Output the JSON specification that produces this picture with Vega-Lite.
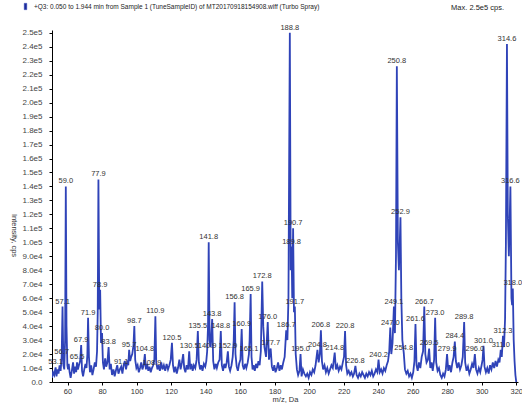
{
"$schema": "https://vega.github.io/schema/vega-lite/v6.json",
"width": 466, "height": 352,
"autosize": {"type": "none"},
"padding": {"left": 52, "top": 30, "right": 4, "bottom": 23},
"background": "white",
"config": {"view": {"stroke": null}, "font": "Liberation Sans"},
"title": {"text": "Max. 2.5e5 cps.", "anchor": "end", "frame": "group", "orient": "top", "fontSize": 7.5, "fontWeight": "normal", "color": "#222", "offset": -8, "dx": -14},
"data": {"values": [
{"mz":51.0,"i":3000},{"mz":51.6,"i":7000},{"mz":52.3,"i":5000},{"mz":52.7,"i":8000},{"mz":53.1,"i":10500,"lab":"53.1"},{"mz":53.6,"i":4000},{"mz":54.2,"i":9000},{"mz":54.8,"i":6000},{"mz":55.4,"i":12000},{"mz":56.0,"i":8000},{"mz":56.6,"i":18000,"lab":"56.7"},{"mz":57.1,"i":54000,"lab":"57.1"},{"mz":57.6,"i":12000},{"mz":58.1,"i":9000},{"mz":58.6,"i":30000},{"mz":59.0,"i":140000,"lab":"59.0"},{"mz":59.4,"i":40000},{"mz":59.9,"i":12000},{"mz":60.3,"i":9000},{"mz":60.7,"i":13000},{"mz":61.2,"i":7000},{"mz":61.8,"i":3000},{"mz":62.5,"i":8000},{"mz":63.2,"i":14000},{"mz":63.8,"i":6000},{"mz":64.5,"i":11000},{"mz":65.0,"i":7000},{"mz":65.5,"i":14000,"lab":"65.5"},{"mz":66.0,"i":9000},{"mz":66.6,"i":12000},{"mz":67.3,"i":15000},{"mz":67.9,"i":26500,"lab":"67.9"},{"mz":68.4,"i":8000},{"mz":69.0,"i":4000},{"mz":69.7,"i":9000},{"mz":70.4,"i":13000},{"mz":71.0,"i":10000},{"mz":71.5,"i":20000},{"mz":71.9,"i":46000,"lab":"71.9"},{"mz":72.4,"i":18000},{"mz":73.0,"i":7000},{"mz":73.7,"i":12000},{"mz":74.4,"i":5000},{"mz":75.1,"i":9000},{"mz":75.8,"i":14000},{"mz":76.5,"i":11000},{"mz":77.1,"i":22000},{"mz":77.5,"i":50000},{"mz":77.9,"i":145000,"lab":"77.9"},{"mz":78.4,"i":52000},{"mz":78.9,"i":66000,"lab":"78.9"},{"mz":79.4,"i":28000},{"mz":80.0,"i":35000,"lab":"80.0"},{"mz":80.5,"i":14000},{"mz":81.1,"i":9000},{"mz":81.8,"i":17000},{"mz":82.4,"i":11000},{"mz":83.1,"i":14000},{"mz":83.8,"i":25000,"lab":"83.8"},{"mz":84.4,"i":9000},{"mz":85.1,"i":13000},{"mz":85.8,"i":5000},{"mz":86.6,"i":9000},{"mz":87.3,"i":4000},{"mz":88.0,"i":8000},{"mz":88.8,"i":12000},{"mz":89.5,"i":6000},{"mz":90.3,"i":9000},{"mz":91.1,"i":11000,"lab":"91.1"},{"mz":91.8,"i":6000},{"mz":92.5,"i":12000},{"mz":93.2,"i":15000},{"mz":93.9,"i":9000},{"mz":94.6,"i":14000},{"mz":95.2,"i":12000},{"mz":95.7,"i":23000,"lab":"95.7"},{"mz":96.3,"i":15000},{"mz":96.9,"i":18000},{"mz":97.5,"i":20000},{"mz":98.2,"i":26000},{"mz":98.7,"i":40000,"lab":"98.7"},{"mz":99.2,"i":16000},{"mz":99.9,"i":10000},{"mz":100.6,"i":12000},{"mz":101.3,"i":7000},{"mz":102.0,"i":10000},{"mz":102.7,"i":14000},{"mz":103.4,"i":9000},{"mz":104.1,"i":12000},{"mz":104.8,"i":20000,"lab":"104.8"},{"mz":105.4,"i":9000},{"mz":106.1,"i":13000},{"mz":106.8,"i":8000},{"mz":107.5,"i":11000},{"mz":108.2,"i":7000},{"mz":108.9,"i":10000,"lab":"108.9"},{"mz":109.6,"i":12000},{"mz":110.3,"i":16000},{"mz":110.9,"i":47000,"lab":"110.9"},{"mz":111.4,"i":14000},{"mz":112.1,"i":9000},{"mz":112.8,"i":12000},{"mz":113.5,"i":8000},{"mz":114.3,"i":14000},{"mz":115.0,"i":9000},{"mz":115.8,"i":12000},{"mz":116.6,"i":8000},{"mz":117.4,"i":13000},{"mz":118.2,"i":9000},{"mz":119.0,"i":12000},{"mz":119.8,"i":16000},{"mz":120.5,"i":28000,"lab":"120.5"},{"mz":121.1,"i":12000},{"mz":121.8,"i":7000},{"mz":122.5,"i":11000},{"mz":123.3,"i":6000},{"mz":124.0,"i":10000},{"mz":124.8,"i":16000},{"mz":125.5,"i":9000},{"mz":126.3,"i":14000},{"mz":127.0,"i":20000},{"mz":127.6,"i":10000},{"mz":128.3,"i":7000},{"mz":129.0,"i":12000},{"mz":129.8,"i":9000},{"mz":130.5,"i":22000,"lab":"130.5"},{"mz":131.1,"i":9000},{"mz":131.8,"i":13000},{"mz":132.5,"i":8000},{"mz":133.2,"i":12000},{"mz":134.0,"i":10000},{"mz":134.8,"i":16000},{"mz":135.5,"i":36500,"lab":"135.5"},{"mz":136.1,"i":14000},{"mz":136.8,"i":9000},{"mz":137.5,"i":12000},{"mz":138.2,"i":8000},{"mz":139.0,"i":13000},{"mz":139.8,"i":11000},{"mz":140.4,"i":15000},{"mz":140.9,"i":22000,"lab":"140.9"},{"mz":141.4,"i":40000},{"mz":141.8,"i":100000,"lab":"141.8"},{"mz":142.3,"i":30000},{"mz":142.9,"i":25000},{"mz":143.8,"i":45000,"lab":"143.8"},{"mz":144.4,"i":15000},{"mz":145.1,"i":9000},{"mz":145.8,"i":13000},{"mz":146.5,"i":10000},{"mz":147.3,"i":14000},{"mz":148.1,"i":16000},{"mz":148.8,"i":36500,"lab":"148.8"},{"mz":149.4,"i":12000},{"mz":150.1,"i":8000},{"mz":150.8,"i":13000},{"mz":151.5,"i":10000},{"mz":152.2,"i":14000},{"mz":152.9,"i":22000,"lab":"152.9"},{"mz":153.5,"i":11000},{"mz":154.2,"i":8000},{"mz":155.0,"i":12000},{"mz":155.7,"i":18000},{"mz":156.3,"i":30000},{"mz":156.8,"i":57000,"lab":"156.8"},{"mz":157.3,"i":20000},{"mz":158.0,"i":11000},{"mz":158.7,"i":8000},{"mz":159.4,"i":13000},{"mz":160.2,"i":16000},{"mz":160.9,"i":38000,"lab":"160.9"},{"mz":161.5,"i":12000},{"mz":162.2,"i":9000},{"mz":162.9,"i":13000},{"mz":163.6,"i":10000},{"mz":164.4,"i":14000},{"mz":165.1,"i":20000,"lab":"165.1"},{"mz":165.5,"i":30000},{"mz":166.1,"i":63000,"lab":"165.9"},{"mz":166.6,"i":18000},{"mz":167.2,"i":9000},{"mz":167.8,"i":12000},{"mz":168.5,"i":8000},{"mz":169.2,"i":13000},{"mz":169.9,"i":10000},{"mz":170.6,"i":15000},{"mz":171.3,"i":12000},{"mz":172.0,"i":22000},{"mz":172.8,"i":72000,"lab":"172.8"},{"mz":173.4,"i":40000},{"mz":174.1,"i":25000},{"mz":175.0,"i":18000},{"mz":176.0,"i":43000,"lab":"176.0"},{"mz":176.7,"i":16000},{"mz":177.7,"i":24000,"lab":"177.7"},{"mz":178.4,"i":11000},{"mz":179.1,"i":8000},{"mz":179.8,"i":12000},{"mz":180.5,"i":7000},{"mz":181.3,"i":10000},{"mz":182.0,"i":14000},{"mz":182.8,"i":8000},{"mz":183.5,"i":12000},{"mz":184.2,"i":9000},{"mz":185.0,"i":14000},{"mz":185.8,"i":18000},{"mz":186.7,"i":37000,"lab":"186.7"},{"mz":187.4,"i":30000},{"mz":188.0,"i":60000},{"mz":188.8,"i":250000,"lab":"188.8"},{"mz":189.3,"i":80000},{"mz":189.8,"i":97000,"lab":"189.8"},{"mz":190.2,"i":60000},{"mz":190.7,"i":110000,"lab":"190.7"},{"mz":191.2,"i":50000},{"mz":191.7,"i":54000,"lab":"191.7"},{"mz":192.2,"i":20000},{"mz":192.9,"i":9000},{"mz":193.6,"i":5000},{"mz":194.4,"i":8000},{"mz":195.0,"i":20000,"lab":"195.0"},{"mz":195.6,"i":4000},{"mz":196.4,"i":9000},{"mz":197.2,"i":6000},{"mz":198.1,"i":4000},{"mz":198.9,"i":6000},{"mz":199.7,"i":3000},{"mz":200.5,"i":7000},{"mz":201.3,"i":5000},{"mz":202.1,"i":9000},{"mz":202.9,"i":7000},{"mz":203.7,"i":12000},{"mz":204.8,"i":23000,"lab":"204.8"},{"mz":205.5,"i":14000},{"mz":206.2,"i":20000},{"mz":206.8,"i":37000,"lab":"206.8"},{"mz":207.4,"i":15000},{"mz":208.1,"i":9000},{"mz":208.9,"i":12000},{"mz":209.7,"i":7000},{"mz":210.5,"i":10000},{"mz":211.3,"i":6000},{"mz":212.1,"i":9000},{"mz":212.9,"i":12000},{"mz":213.7,"i":10000},{"mz":214.8,"i":21000,"lab":"214.8"},{"mz":215.5,"i":9000},{"mz":216.3,"i":12000},{"mz":217.1,"i":8000},{"mz":217.9,"i":11000},{"mz":218.7,"i":9000},{"mz":219.5,"i":14000},{"mz":220.2,"i":18000},{"mz":220.8,"i":36500,"lab":"220.8"},{"mz":221.4,"i":12000},{"mz":222.1,"i":6000},{"mz":222.9,"i":8000},{"mz":223.7,"i":5000},{"mz":224.5,"i":7000},{"mz":225.3,"i":4000},{"mz":226.0,"i":6000},{"mz":226.8,"i":11500,"lab":"226.8"},{"mz":227.5,"i":5000},{"mz":228.3,"i":3000},{"mz":229.1,"i":6000},{"mz":229.9,"i":4000},{"mz":230.7,"i":7000},{"mz":231.5,"i":5000},{"mz":232.3,"i":3000},{"mz":233.1,"i":6000},{"mz":233.9,"i":4000},{"mz":234.7,"i":7000},{"mz":235.5,"i":5000},{"mz":236.3,"i":8000},{"mz":237.1,"i":4000},{"mz":237.9,"i":6000},{"mz":238.7,"i":9000},{"mz":239.5,"i":7000},{"mz":240.2,"i":16000,"lab":"240.2"},{"mz":240.9,"i":7000},{"mz":241.7,"i":9000},{"mz":242.5,"i":6000},{"mz":243.3,"i":10000},{"mz":244.1,"i":8000},{"mz":244.9,"i":12000},{"mz":245.7,"i":15000},{"mz":246.4,"i":22000},{"mz":247.0,"i":39000,"lab":"247.0"},{"mz":247.6,"i":20000},{"mz":248.3,"i":28000},{"mz":249.1,"i":54000,"lab":"249.1"},{"mz":249.7,"i":35000},{"mz":250.3,"i":90000},{"mz":250.8,"i":226000,"lab":"250.8"},{"mz":251.4,"i":100000},{"mz":252.0,"i":80000},{"mz":252.4,"i":95000},{"mz":252.9,"i":118000,"lab":"252.9"},{"mz":253.4,"i":60000},{"mz":254.0,"i":30000},{"mz":254.8,"i":21000,"lab":"254.8"},{"mz":255.5,"i":9000},{"mz":256.3,"i":6000},{"mz":257.1,"i":8000},{"mz":257.9,"i":4000},{"mz":258.7,"i":6000},{"mz":259.5,"i":3000},{"mz":260.3,"i":7000},{"mz":261.0,"i":15000},{"mz":261.6,"i":41500,"lab":"261.6"},{"mz":262.2,"i":12000},{"mz":262.9,"i":8000},{"mz":263.6,"i":14000},{"mz":264.4,"i":10000},{"mz":265.2,"i":18000},{"mz":266.0,"i":22000},{"mz":266.7,"i":54000,"lab":"266.7"},{"mz":267.3,"i":20000},{"mz":268.0,"i":14000},{"mz":268.8,"i":16000},{"mz":269.5,"i":24000,"lab":"269.5"},{"mz":270.2,"i":10000},{"mz":270.9,"i":14000},{"mz":271.6,"i":8000},{"mz":272.4,"i":16000},{"mz":273.0,"i":46000,"lab":"273.0"},{"mz":273.6,"i":14000},{"mz":274.4,"i":8000},{"mz":275.2,"i":10000},{"mz":276.0,"i":5000},{"mz":276.8,"i":3000},{"mz":277.6,"i":6000},{"mz":278.4,"i":4000},{"mz":279.2,"i":9000},{"mz":279.9,"i":20000,"lab":"279.9"},{"mz":280.6,"i":8000},{"mz":281.4,"i":12000},{"mz":282.2,"i":7000},{"mz":283.0,"i":14000},{"mz":283.7,"i":18000},{"mz":284.4,"i":29000,"lab":"284.4"},{"mz":285.0,"i":15000},{"mz":285.8,"i":10000},{"mz":286.6,"i":14000},{"mz":287.4,"i":9000},{"mz":288.2,"i":12000},{"mz":289.0,"i":18000},{"mz":289.8,"i":43000,"lab":"289.8"},{"mz":290.4,"i":14000},{"mz":291.2,"i":8000},{"mz":292.0,"i":11000},{"mz":292.8,"i":6000},{"mz":293.6,"i":9000},{"mz":294.4,"i":13000},{"mz":295.2,"i":10000},{"mz":296.0,"i":20000,"lab":"296.0"},{"mz":296.7,"i":9000},{"mz":297.5,"i":6000},{"mz":298.3,"i":10000},{"mz":299.1,"i":7000},{"mz":299.9,"i":12000},{"mz":300.5,"i":16000},{"mz":301.0,"i":26000,"lab":"301.0"},{"mz":301.6,"i":11000},{"mz":302.4,"i":7000},{"mz":303.2,"i":10000},{"mz":304.0,"i":6000},{"mz":304.8,"i":12000},{"mz":305.6,"i":9000},{"mz":306.4,"i":14000},{"mz":307.2,"i":10000},{"mz":308.0,"i":15000},{"mz":308.8,"i":11000},{"mz":309.6,"i":16000},{"mz":310.3,"i":14000},{"mz":311.0,"i":23000,"lab":"311.0"},{"mz":311.6,"i":18000},{"mz":312.3,"i":33000,"lab":"312.3"},{"mz":312.9,"i":25000},{"mz":313.5,"i":45000},{"mz":314.0,"i":100000},{"mz":314.6,"i":242000,"lab":"314.6"},{"mz":315.1,"i":120000},{"mz":315.7,"i":90000},{"mz":316.1,"i":110000},{"mz":316.6,"i":140000,"lab":"316.6"},{"mz":317.2,"i":60000},{"mz":317.6,"i":55000},{"mz":318.0,"i":67000,"lab":"318.0"},{"mz":318.5,"i":30000},{"mz":319.0,"i":15000},{"mz":319.5,"i":5000},{"mz":320.0,"i":0}
]},
"encoding": {
"x": {"field": "mz", "type": "quantitative", "scale": {"domain": [51, 321], "nice": false, "zero": false},
"axis": {"values": [60,80,100,120,140,160,180,200,220,240,260,280,300,320], "labelOverlap": false, "grid": false, "tickSize": 3, "tickColor": "#000", "domainColor": "#000", "labelFontSize": 7.5, "labelColor": "#333", "labelPadding": 2, "title": "m/z, Da", "titleFontSize": 7.5, "titleFontWeight": "normal", "titleColor": "#333", "titlePadding": 1}},
"y": {"field": "i", "type": "quantitative", "scale": {"domain": [0, 252000], "nice": false},
"axis": {"values": [0,10000,20000,30000,40000,50000,60000,70000,80000,90000,100000,110000,120000,130000,140000,150000,160000,170000,180000,190000,200000,210000,220000,230000,240000,250000], "labelOverlap": false, "labelExpr": "datum.value == 0 ? '0.0' : (datum.value < 100000 ? format(datum.value/10000, '.1f') + 'e4' : format(datum.value/100000, '.1f') + 'e5')", "grid": false, "tickSize": 3, "tickColor": "#000", "domainColor": "#000", "labelFontSize": 8, "labelColor": "#444", "labelPadding": 7, "title": "Intensity, cps", "titleAngle": 90, "titleX": -39, "titleY": 205, "titleAlign": "center", "titleBaseline": "middle", "titleFontSize": 7.5, "titleFontWeight": "normal", "titleColor": "#333"}}
},
"layer": [
{
"mark": {"type": "line", "strokeWidth": 1.8, "clip": true, "interpolate": "linear"},
"encoding": {
"color": {"datum": "+Q3: 0.050 to 1.944 min from Sample 1 (TuneSampleID) of MT20170918154908.wiff (Turbo Spray)", "type": "nominal", "scale": {"range": ["#2f43b8"]},
"legend": {"title": null, "orient": "none", "legendX": -30, "legendY": -27, "padding": 0, "symbolType": "M-0.4,-1H0.4V1H-0.4Z", "symbolSize": 40, "symbolFillColor": "#1c2a99", "symbolStrokeColor": "#1c2a99", "symbolStrokeWidth": 0.5, "labelFontSize": 6.5, "labelColor": "#222", "labelLimit": 600, "labelOffset": 5}}
}
},
{
"transform": [{"filter": "isValid(datum.lab)"}],
"mark": {"type": "text", "baseline": "bottom", "dy": -1, "fontSize": 7.5, "color": "#333"},
"encoding": {
"text": {"field": "lab"}
}
}
]
}
